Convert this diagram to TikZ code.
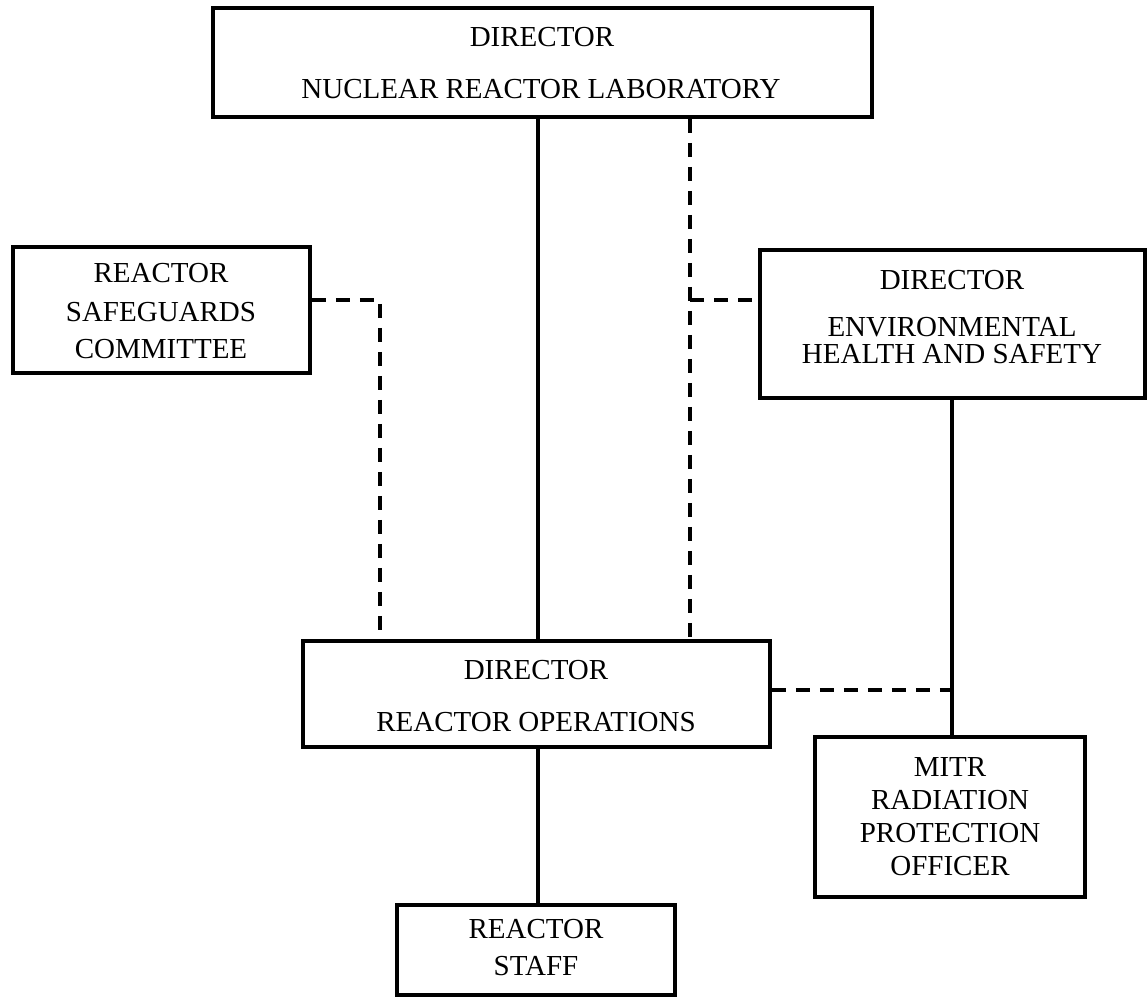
\documentclass[tikz,border=0pt]{standalone}
\usepackage{fontspec}
\setmainfont{Liberation Serif}
\begin{document}
\begin{tikzpicture}[x=1pt,y=-1pt,
  box/.style={draw, line width=3.5pt, inner sep=0pt},
  txt/.style={font=\fontsize{29}{29}\selectfont, inner sep=0pt, text height=19pt, text depth=0pt, anchor=center},
  solidline/.style={line width=3.5pt},
  dashline/.style={line width=3.5pt, dash pattern=on 14pt off 10pt}]
\useasboundingbox (0,0) rectangle (1148,998);
\fill[white] (0,0) rectangle (1148,998);

% boxes
\node[box, minimum width=659pt, minimum height=109pt] (top) at (542.5,62.5) {};
\node[box, minimum width=297pt, minimum height=126pt] (rsc) at (161.5,310) {};
\node[box, minimum width=385pt, minimum height=148pt] (ehs) at (952.5,324) {};
\node[box, minimum width=467pt, minimum height=106pt] (ops) at (536.5,694) {};
\node[box, minimum width=270pt, minimum height=160pt] (mitr) at (950,817) {};
\node[box, minimum width=278pt, minimum height=90pt] (staff) at (536,950) {};

% texts
\node[txt] (top1) at (542,37) {DIRECTOR};
\node[txt] (top2) at (541,89) {NUCLEAR REACTOR LABORATORY};
\node[txt] (rsc1) at (161,273) {REACTOR};
\node[txt] (rsc2) at (161,312) {SAFEGUARDS};
\node[txt] (rsc3) at (161,349) {COMMITTEE};
\node[txt] (ehs1) at (952,280) {DIRECTOR};
\node[txt] (ehs2) at (952,327) {ENVIRONMENTAL};
\node[txt] (ehs3) at (952,354) {HEALTH AND SAFETY};
\node[txt] (ops1) at (536,670) {DIRECTOR};
\node[txt] (ops2) at (536,722) {REACTOR OPERATIONS};
\node[txt] (mitr1) at (950,767) {MITR};
\node[txt] (mitr2) at (950,800) {RADIATION};
\node[txt] (mitr3) at (950,833) {PROTECTION};
\node[txt] (mitr4) at (950,866) {OFFICER};
\node[txt] (staff1) at (536,929) {REACTOR};
\node[txt] (staff2) at (536,966) {STAFF};

% helper coordinates
\coordinate (xs) at (538,0);
\coordinate (xd) at (690,0);
\coordinate (xr) at (380,0);
\coordinate (xm) at (952,0);
\coordinate (yr) at (0,300);
\coordinate (yo) at (0,690);

% connectors
\draw[solidline] (top.south -| xs) -- (ops.north -| xs);
\draw[dashline] (top.south -| xd) -- (ops.north -| xd);
\draw[dashline] (rsc.east |- yr) -| (ops.north -| xr);
\draw[dashline] (xd |- yr) -- (ehs.west |- yr);
\draw[solidline] (ehs.south -| xm) -- (mitr.north -| xm);
\draw[dashline] (ops.east |- yo) -- (xm |- yo);
\draw[solidline] (ops.south -| xs) -- (staff.north -| xs);
\end{tikzpicture}
\end{document}
